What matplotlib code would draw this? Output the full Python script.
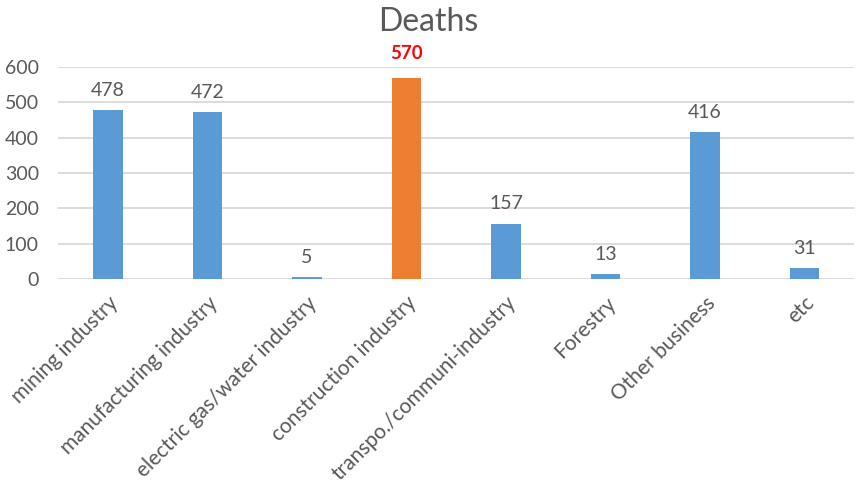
import matplotlib
matplotlib.use("Agg")
import matplotlib.pyplot as plt

categories = ["mining industry", "manufacturing industry", "electric gas/water industry",
              "construction industry", "transpo./communi-industry", "Forestry",
              "Other business", "etc"]
deaths = [478, 472, 5, 570, 157, 13, 416, 31]
highlight = "construction industry"
yticks = [0, 100, 200, 300, 400, 500, 600]

plt.rcParams["font.family"] = ["Lato", "DejaVu Sans"]
blue = "#5B9BD5"
orange = "#ED7D31"
gray = "#595959"

fig = plt.figure(figsize=(8.56, 4.86), dpi=100)
ax = fig.add_axes([0.068, 0.426, 0.93, 0.436])

x = list(range(len(categories)))
colors = [orange if c == highlight else blue for c in categories]
ax.bar(x, deaths, width=0.3, color=colors, zorder=3)

for xi, v, c in zip(x, deaths, categories):
    if c == highlight:
        ax.annotate(str(v), (xi, v), xytext=(0, 11), textcoords="offset points",
                    ha="center", va="bottom", color="#FF0000", fontsize=13.5,
                    fontweight="bold", annotation_clip=False)
    else:
        ax.annotate(str(v), (xi, v), xytext=(0, 8), textcoords="offset points",
                    ha="center", va="bottom", color=gray, fontsize=14,
                    annotation_clip=False)

ax.set_xlim(-0.5, len(categories) - 0.5)
ax.set_ylim(0, 600)
ax.set_yticks(yticks)
ax.yaxis.grid(True, color="#D9D9D9", linewidth=1.3, zorder=0)
ax.set_axisbelow(True)
for s in ax.spines.values():
    s.set_visible(False)
ax.tick_params(axis="both", length=0, colors=gray)
ax.tick_params(axis="y", pad=14, labelsize=14)
ax.set_xticks(x)
ax.set_xticklabels(categories, rotation=45, ha="right", rotation_mode="anchor")
ax.tick_params(axis="x", pad=10, labelsize=15)

fig.text(0.5, 0.985, "Deaths", ha="center", va="top", fontsize=23, color=gray)

fig.savefig("out.png", dpi=100)
